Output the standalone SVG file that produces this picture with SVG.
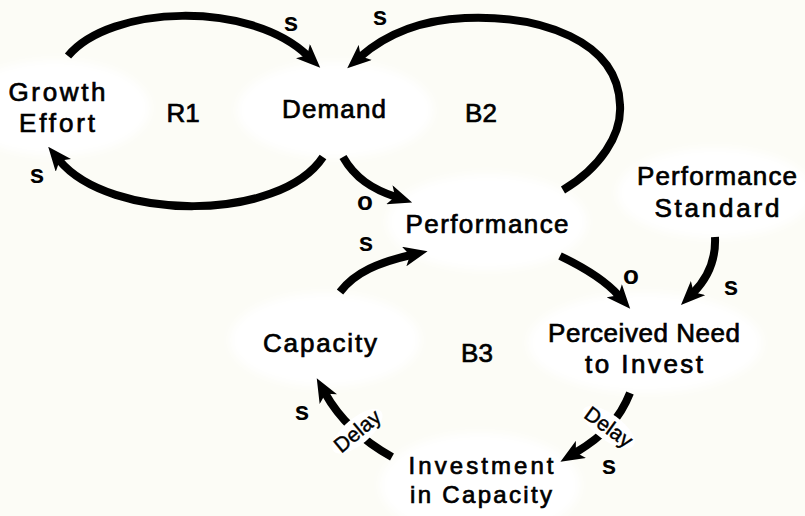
<svg xmlns="http://www.w3.org/2000/svg" width="805" height="516" viewBox="0 0 805 516">
<defs>
<filter id="soft" x="-20%" y="-20%" width="140%" height="140%"><feGaussianBlur stdDeviation="4"/></filter>
<marker id="ah" viewBox="0 0 24 20" refX="7" refY="10" markerWidth="24" markerHeight="20" markerUnits="userSpaceOnUse" orient="auto">
<path d="M0,0 L24,10 L0,20 L6,10 z" fill="#000"/>
</marker>
<style>
.bg{fill:#fcfcf6}
.node ellipse{fill:#fff;filter:url(#soft)}
.lbl{font-family:"Liberation Sans",Arial,sans-serif;font-size:26px;fill:#000;stroke:#000;stroke-width:0.7;text-anchor:middle}
.lbl2{font-family:"Liberation Sans",Arial,sans-serif;font-size:24px;fill:#000;stroke:#000;stroke-width:0.7;text-anchor:middle}
.loop{font-family:"Liberation Sans",Arial,sans-serif;font-size:26px;fill:#000;stroke:#000;stroke-width:0.7;text-anchor:middle}
.sign{font-family:"Liberation Sans",Arial,sans-serif;font-size:26px;font-weight:bold;fill:#000;text-anchor:middle}
.link{fill:none;stroke:#000;stroke-width:8;marker-end:url(#ah)}
.dl{font-family:"Liberation Sans",Arial,sans-serif;font-size:21px;fill:#000;stroke:#000;stroke-width:0.4;text-anchor:middle}
.dbg{fill:#fff}
</style>
</defs>
<rect class="bg" x="0" y="0" width="805" height="516"/>

<g id="growth-effort" class="node">
<ellipse cx="55" cy="108" rx="95" ry="48"/>
<text class="lbl" x="57" y="101" textLength="97" lengthAdjust="spacing">Growth</text>
<text class="lbl" x="57" y="132" textLength="76" lengthAdjust="spacing">Effort</text>
</g>
<g id="demand" class="node">
<ellipse cx="335" cy="110" rx="98" ry="48"/>
<text class="lbl" x="334" y="118" textLength="104" lengthAdjust="spacing">Demand</text>
</g>
<g id="performance" class="node">
<ellipse cx="487" cy="222" rx="100" ry="48"/>
<text class="lbl" x="487" y="233" textLength="163" lengthAdjust="spacing">Performance</text>
</g>
<g id="performance-standard" class="node">
<ellipse cx="715" cy="193" rx="98" ry="45"/>
<text class="lbl" x="717" y="185" textLength="160" lengthAdjust="spacing">Performance</text>
<text class="lbl" x="717" y="217" textLength="125" lengthAdjust="spacing">Standard</text>
</g>
<g id="perceived-need" class="node">
<ellipse cx="645" cy="343" rx="117" ry="50"/>
<text class="lbl" x="644" y="342" textLength="192" lengthAdjust="spacing">Perceived Need</text>
<text class="lbl" x="644" y="373" textLength="118" lengthAdjust="spacing">to Invest</text>
</g>
<g id="capacity" class="node">
<ellipse cx="325" cy="340" rx="95" ry="47"/>
<text class="lbl" x="320" y="352" textLength="114" lengthAdjust="spacing">Capacity</text>
</g>
<g id="investment" class="node">
<ellipse cx="480" cy="485" rx="100" ry="52"/>
<text class="lbl2" x="481" y="474" textLength="145" lengthAdjust="spacing">Investment</text>
<text class="lbl2" x="481" y="503" textLength="142" lengthAdjust="spacing">in Capacity</text>
</g>

<g id="loops">
<text class="loop" x="183" y="122">R1</text>
<text class="loop" x="481" y="122">B2</text>
<text class="loop" x="477" y="362">B3</text>
</g>

<g id="connectors">
<path class="link" d="M68,56 C110,5 250,0 308,56"/>
<path class="link" d="M323,157 C280,222 110,222 59,160"/>
<path class="link" d="M563,190 C600,168 622,135 620,105 C618,40 540,15 465,18 C420,20 385,35 360,57"/>
<path class="link" d="M343,157 C355,178 372,189 396,197"/>
<path class="link" d="M340,292 C355,272 380,262 411,255"/>
<path class="link" d="M560,256 C585,268 605,280 619,296"/>
<path class="link" d="M715,237 C716,260 708,278 693,293"/>
<path class="link" d="M630,393 C620,418 605,435 575,453"/>
<path class="link" d="M392,457 C365,442 340,420 325,393"/>
<g transform="translate(608,428) rotate(36)">
<ellipse class="dbg" cx="0" cy="-1" rx="31" ry="13"/>
<text class="dl" x="0" y="6">Delay</text>
</g>
<g transform="translate(358,432) rotate(-40)">
<ellipse class="dbg" cx="0" cy="-1" rx="31" ry="13"/>
<text class="dl" x="0" y="6">Delay</text>
</g>
<text class="sign" x="291" y="31">s</text>
<text class="sign" x="380" y="25">s</text>
<text class="sign" x="37" y="183">s</text>
<text class="sign" x="365" y="210">o</text>
<text class="sign" x="366" y="251">s</text>
<text class="sign" x="631" y="284">o</text>
<text class="sign" x="731" y="295">s</text>
<text class="sign" x="609" y="474">s</text>
<text class="sign" x="302" y="420">s</text>
</g>
</svg>
